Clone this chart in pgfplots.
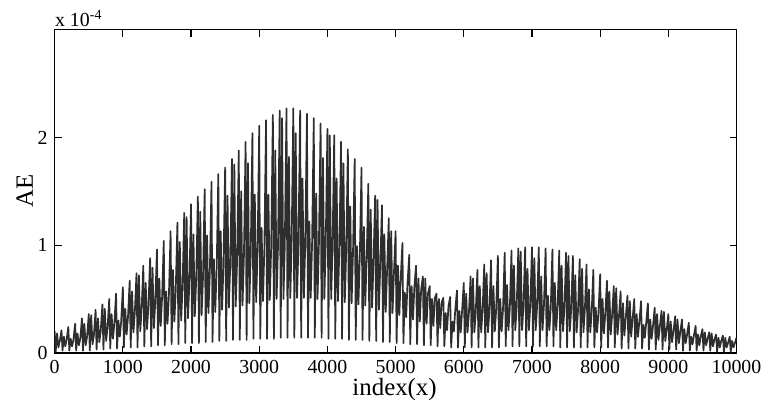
\documentclass[border=0pt]{standalone}
\usepackage{pgfplots}
\usepackage{pgfplotstable}
\pgfplotsset{compat=1.18}
\usepackage{fontspec}
\setmainfont{Liberation Serif}
\pgfplotstableread[row sep=\\]{
x y\\
0 0.20\\ 15 0.01\\ 35 0.18\\ 55 0.05\\ 75 0.11\\
100 0.21\\ 115 0.02\\ 135 0.15\\ 155 0.06\\ 175 0.12\\
200 0.24\\ 215 0.02\\ 235 0.13\\ 255 0.06\\ 275 0.12\\
300 0.27\\ 315 0.02\\ 335 0.18\\ 355 0.07\\ 375 0.13\\
400 0.32\\ 415 0.02\\ 435 0.27\\ 455 0.07\\ 475 0.15\\
500 0.36\\ 515 0.02\\ 535 0.35\\ 555 0.08\\ 575 0.16\\
600 0.40\\ 615 0.03\\ 635 0.32\\ 655 0.10\\ 675 0.20\\
700 0.45\\ 715 0.03\\ 735 0.41\\ 755 0.11\\ 775 0.23\\
800 0.50\\ 815 0.04\\ 835 0.36\\ 855 0.13\\ 875 0.27\\
900 0.55\\ 915 0.04\\ 935 0.30\\ 955 0.15\\ 975 0.29\\
1000 0.61\\ 1015 0.05\\ 1035 0.41\\ 1055 0.17\\ 1075 0.33\\
1100 0.67\\ 1115 0.05\\ 1135 0.57\\ 1155 0.19\\ 1175 0.37\\
1200 0.74\\ 1215 0.05\\ 1235 0.72\\ 1255 0.20\\ 1275 0.40\\
1300 0.81\\ 1315 0.06\\ 1335 0.65\\ 1355 0.22\\ 1375 0.44\\
1400 0.88\\ 1415 0.06\\ 1435 0.79\\ 1455 0.23\\ 1475 0.47\\
1500 0.96\\ 1515 0.07\\ 1535 0.69\\ 1555 0.25\\ 1575 0.51\\
1600 1.04\\ 1615 0.07\\ 1635 0.57\\ 1655 0.27\\ 1675 0.53\\
1700 1.13\\ 1715 0.08\\ 1735 0.77\\ 1755 0.29\\ 1775 0.57\\
1800 1.21\\ 1815 0.08\\ 1835 1.03\\ 1855 0.30\\ 1875 0.60\\
1900 1.30\\ 1915 0.09\\ 1935 1.26\\ 1955 0.32\\ 1975 0.64\\
2000 1.38\\ 2015 0.09\\ 2035 1.10\\ 2055 0.34\\ 2075 0.67\\
2100 1.45\\ 2115 0.09\\ 2135 1.31\\ 2155 0.35\\ 2175 0.69\\
2200 1.52\\ 2215 0.10\\ 2235 1.09\\ 2255 0.37\\ 2275 0.73\\
2300 1.59\\ 2315 0.10\\ 2335 0.87\\ 2355 0.38\\ 2375 0.76\\
2400 1.66\\ 2415 0.11\\ 2435 1.13\\ 2455 0.40\\ 2475 0.80\\
2500 1.72\\ 2515 0.11\\ 2535 1.46\\ 2555 0.42\\ 2575 0.82\\
2600 1.80\\ 2615 0.12\\ 2635 1.75\\ 2655 0.43\\ 2675 0.85\\
2700 1.88\\ 2715 0.12\\ 2735 1.50\\ 2755 0.44\\ 2775 0.88\\
2800 1.96\\ 2815 0.12\\ 2835 1.76\\ 2855 0.46\\ 2875 0.90\\
2900 2.04\\ 2915 0.13\\ 2935 1.47\\ 2955 0.47\\ 2975 0.93\\
3000 2.11\\ 3015 0.13\\ 3035 1.16\\ 3055 0.48\\ 3075 0.96\\
3100 2.16\\ 3115 0.13\\ 3135 1.47\\ 3155 0.49\\ 3175 0.97\\
3200 2.21\\ 3215 0.13\\ 3235 1.88\\ 3255 0.50\\ 3275 0.98\\
3300 2.25\\ 3315 0.14\\ 3335 2.18\\ 3355 0.50\\ 3375 1.00\\
3400 2.27\\ 3415 0.14\\ 3435 1.82\\ 3455 0.51\\ 3475 1.01\\
3500 2.27\\ 3515 0.14\\ 3535 2.04\\ 3555 0.51\\ 3575 1.01\\
3600 2.25\\ 3615 0.14\\ 3635 1.62\\ 3655 0.51\\ 3675 1.01\\
3700 2.22\\ 3715 0.14\\ 3735 1.22\\ 3755 0.51\\ 3775 1.01\\
3800 2.18\\ 3815 0.14\\ 3835 1.48\\ 3855 0.50\\ 3875 1.00\\
3900 2.13\\ 3915 0.14\\ 3935 1.81\\ 3955 0.50\\ 3975 1.00\\
4000 2.08\\ 4015 0.13\\ 4035 2.02\\ 4055 0.50\\ 4075 0.98\\
4100 2.02\\ 4115 0.13\\ 4135 1.62\\ 4155 0.48\\ 4175 0.96\\
4200 1.96\\ 4215 0.13\\ 4235 1.76\\ 4255 0.47\\ 4275 0.93\\
4300 1.89\\ 4315 0.12\\ 4335 1.36\\ 4355 0.46\\ 4375 0.92\\
4400 1.80\\ 4415 0.12\\ 4435 0.99\\ 4455 0.45\\ 4475 0.89\\
4500 1.72\\ 4515 0.12\\ 4535 1.17\\ 4555 0.44\\ 4575 0.86\\
4600 1.57\\ 4615 0.11\\ 4635 1.33\\ 4655 0.42\\ 4675 0.82\\
4700 1.46\\ 4715 0.11\\ 4735 1.42\\ 4755 0.40\\ 4775 0.80\\
4800 1.37\\ 4815 0.10\\ 4835 1.10\\ 4855 0.38\\ 4875 0.76\\
4900 1.25\\ 4915 0.10\\ 4935 1.13\\ 4955 0.37\\ 4975 0.73\\
5000 1.13\\ 5015 0.09\\ 5035 0.81\\ 5055 0.35\\ 5075 0.69\\
5100 1.02\\ 5115 0.09\\ 5135 0.56\\ 5155 0.33\\ 5175 0.65\\
5200 0.91\\ 5215 0.08\\ 5235 0.62\\ 5255 0.31\\ 5275 0.61\\
5300 0.81\\ 5315 0.08\\ 5335 0.69\\ 5355 0.29\\ 5375 0.59\\
5400 0.71\\ 5415 0.07\\ 5435 0.69\\ 5455 0.27\\ 5475 0.55\\
5500 0.62\\ 5515 0.07\\ 5535 0.50\\ 5555 0.25\\ 5575 0.51\\
5600 0.55\\ 5615 0.06\\ 5635 0.50\\ 5655 0.23\\ 5675 0.47\\
5700 0.51\\ 5715 0.06\\ 5735 0.37\\ 5755 0.21\\ 5775 0.43\\
5800 0.52\\ 5815 0.05\\ 5835 0.29\\ 5855 0.20\\ 5875 0.40\\
5900 0.58\\ 5915 0.05\\ 5935 0.39\\ 5955 0.19\\ 5975 0.39\\
6000 0.65\\ 6015 0.05\\ 6035 0.55\\ 6055 0.19\\ 6075 0.37\\
6100 0.71\\ 6115 0.05\\ 6135 0.69\\ 6155 0.19\\ 6175 0.37\\
6200 0.77\\ 6215 0.05\\ 6235 0.62\\ 6255 0.19\\ 6275 0.39\\
6300 0.82\\ 6315 0.05\\ 6335 0.74\\ 6355 0.19\\ 6375 0.39\\
6400 0.86\\ 6415 0.05\\ 6435 0.62\\ 6455 0.20\\ 6475 0.40\\
6500 0.90\\ 6515 0.05\\ 6535 0.50\\ 6555 0.20\\ 6575 0.40\\
6600 0.93\\ 6615 0.06\\ 6635 0.63\\ 6655 0.21\\ 6675 0.41\\
6700 0.95\\ 6715 0.06\\ 6735 0.81\\ 6755 0.21\\ 6775 0.41\\
6800 0.97\\ 6815 0.06\\ 6835 0.94\\ 6855 0.21\\ 6875 0.43\\
6900 0.98\\ 6915 0.06\\ 6935 0.78\\ 6955 0.21\\ 6975 0.43\\
7000 0.98\\ 7015 0.06\\ 7035 0.88\\ 7055 0.21\\ 7075 0.43\\
7100 0.98\\ 7115 0.06\\ 7135 0.71\\ 7155 0.21\\ 7175 0.43\\
7200 0.97\\ 7215 0.06\\ 7235 0.53\\ 7255 0.21\\ 7275 0.41\\
7300 0.96\\ 7315 0.06\\ 7335 0.65\\ 7355 0.21\\ 7375 0.41\\
7400 0.95\\ 7415 0.05\\ 7435 0.81\\ 7455 0.20\\ 7475 0.40\\
7500 0.93\\ 7515 0.05\\ 7535 0.90\\ 7555 0.20\\ 7575 0.40\\
7600 0.90\\ 7615 0.05\\ 7635 0.72\\ 7655 0.19\\ 7675 0.39\\
7700 0.87\\ 7715 0.05\\ 7735 0.78\\ 7755 0.19\\ 7775 0.39\\
7800 0.82\\ 7815 0.05\\ 7835 0.59\\ 7855 0.19\\ 7875 0.37\\
7900 0.77\\ 7915 0.05\\ 7935 0.42\\ 7955 0.19\\ 7975 0.37\\
8000 0.73\\ 8015 0.05\\ 8035 0.50\\ 8055 0.18\\ 8075 0.36\\
8100 0.67\\ 8115 0.05\\ 8135 0.57\\ 8155 0.17\\ 8175 0.35\\
8200 0.62\\ 8215 0.05\\ 8235 0.60\\ 8255 0.17\\ 8275 0.33\\
8300 0.57\\ 8315 0.04\\ 8335 0.46\\ 8355 0.16\\ 8375 0.32\\
8400 0.53\\ 8415 0.04\\ 8435 0.48\\ 8455 0.15\\ 8475 0.31\\
8500 0.50\\ 8515 0.04\\ 8535 0.36\\ 8555 0.15\\ 8575 0.29\\
8600 0.48\\ 8615 0.04\\ 8635 0.26\\ 8655 0.14\\ 8675 0.28\\
8700 0.46\\ 8715 0.03\\ 8735 0.31\\ 8755 0.13\\ 8775 0.25\\
8800 0.42\\ 8815 0.03\\ 8835 0.36\\ 8855 0.12\\ 8875 0.24\\
8900 0.39\\ 8915 0.03\\ 8935 0.38\\ 8955 0.11\\ 8975 0.21\\
9000 0.36\\ 9015 0.03\\ 9035 0.29\\ 9055 0.10\\ 9075 0.20\\
9100 0.34\\ 9115 0.03\\ 9135 0.31\\ 9155 0.09\\ 9175 0.19\\
9200 0.31\\ 9215 0.02\\ 9235 0.22\\ 9255 0.09\\ 9275 0.17\\
9300 0.28\\ 9315 0.02\\ 9335 0.15\\ 9355 0.08\\ 9375 0.16\\
9400 0.25\\ 9415 0.02\\ 9435 0.17\\ 9455 0.07\\ 9475 0.15\\
9500 0.22\\ 9515 0.02\\ 9535 0.19\\ 9555 0.07\\ 9575 0.13\\
9600 0.19\\ 9615 0.02\\ 9635 0.18\\ 9655 0.06\\ 9675 0.12\\
9700 0.17\\ 9715 0.01\\ 9735 0.14\\ 9755 0.05\\ 9775 0.11\\
9800 0.16\\ 9815 0.01\\ 9835 0.14\\ 9855 0.05\\ 9875 0.09\\
9900 0.15\\ 9915 0.01\\ 9935 0.11\\ 9955 0.05\\ 9975 0.09\\
10000 0.14\\
}\aedata
\begin{document}
\begin{tikzpicture}
\begin{axis}[
  scale only axis,
  width=343pt, height=162.5pt,
  xmin=0, xmax=10000, ymin=0, ymax=3,
  xtick={0,1000,...,10000},
  ytick={0,1,2},
  scaled x ticks=false,
  tick align=inside,
  tick pos=both,
  major tick length=3.5pt,
  axis line style={line width=0.7pt},
  every tick/.style={line width=0.6pt, black},
  tick label style={font=\fontsize{10}{12}\selectfont, /pgf/number format/assume math mode=true, /pgf/number format/1000 sep={}},
  xlabel={index(x)},
  ylabel={AE},
  label style={font=\fontsize{12.5}{15}\selectfont},
  xlabel style={at={(axis description cs:0.4985,-0.132)}, anchor=base, inner sep=0pt},
  ylabel style={at={(axis description cs:-0.044,0.5)}, anchor=center, inner sep=0pt},
  clip=true,
]
\addplot[black!82, line width=0.85pt, line join=round] table[x=x, y=y] {\aedata};
\coordinate (bl) at (rel axis cs:-0.0802,-0.1692);
\coordinate (tr) at (rel axis cs:1.0394,1.0923);
\coordinate (lab) at (rel axis cs:0,1);
\end{axis}
\node[anchor=base west, inner sep=0pt, font=\fontsize{10}{12}\selectfont] at ([yshift=1.5pt]lab) {x 10\textsuperscript{-4}};
\path (bl) rectangle (tr);
\end{tikzpicture}
\end{document}
